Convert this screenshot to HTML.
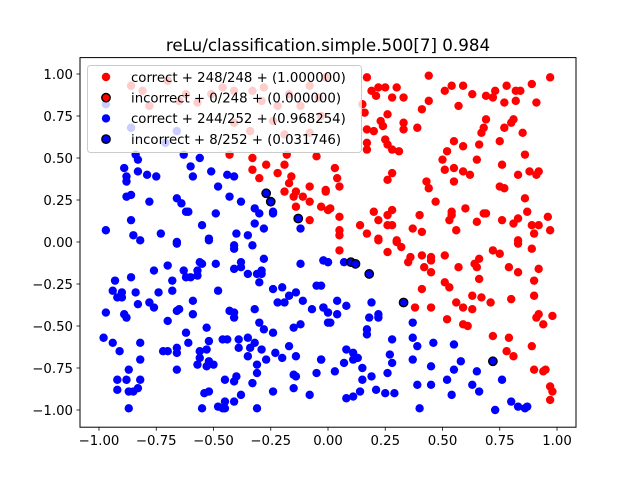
<!DOCTYPE html>
<html><head><meta charset="utf-8"><style>
body{margin:0;background:#fff}
svg{display:block;font-family:"DejaVu Sans","Liberation Sans",sans-serif}
</style></head><body>
<svg id="chart" width="640" height="480" viewBox="0 0 640 480" xmlns="http://www.w3.org/2000/svg">
<rect width="640" height="480" fill="#fff"/>
<text x="328" y="51" text-anchor="middle" font-size="16.7">reLu/classification.simple.500[7] 0.984</text>
<g id="marks"></g>
<rect x="80" y="57.6" width="496" height="369.6" fill="none" stroke="#000" stroke-width="1"/>
<g id="axes"></g>
<g id="legend"></g>
</svg>
<script>
const redX=[0.05,0.26,0.32,0.30,0.22,0.36,0.35,0.41,0.45,0.45,0.51,0.42,0.45,0.57,0.64,0.66,0.65,0.72,0.75,0.83,0.89,0.79,0.83,0.92,0.66,0.51,0.53,0.41,0.90,0.90,0.63,0.67,0.71,0.80,0.56,0.59,0.63,0.38,0.45,0.52,0.59,0.61,0.92,0.91,0.98,0.94,0.72,0.79,0.78,0.81,0.89,0.90,0.94,0.95,0.97,0.98,0.97,
0.17,0.44,0.97,0.19,0.22,0.25,0.30,0.21,0.28,0.33,0.15,0.16,0.44,0.41,0.51,0.54,0.59,0.63,0.69,0.72,0.73,0.78,0.82,0.84,0.89,0.77,0.82,0.91,0.57,0.26,0.23,0.24,0.33,0.33,0.39,0.17,0.20,0.69,0.68,0.67,0.81,0.80,0.77,0.85,0.17,0.17,0.25,0.26,0.28,0.31,0.55,0.59,0.52,0.66,0.75,0.86,0.65,0.50,0.51,0.55,0.59,0.62,0.76,0.83,0.88,0.91,0.92,0.03,0.04,0.05,0.28,0.26,-0.01,0.43,0.44,0.55,0.75,0.77,0.86,0.47,-0.03,0.01,0.20,0.28,0.26,0.22,0.26,0.28,0.40,0.54,0.54,0.60,0.68,0.69,0.05,0.14,0.05,0.05,0.17,0.22,0.30,0.37,0.41,0.53,0.56,0.65,0.76,0.81,0.83,0.87,0.89,0.90,0.92,0.96,0.97,0.83,
-0.86,-0.81,-0.78,-0.70,-0.62,-0.65,-0.57,-0.51,-0.46,-0.41,-0.33,-0.28,-0.29,-0.22,-0.17,-0.12,-0.08,-0.04,-0.03,-0.24,-0.34,-0.41,-0.19,-0.08,-0.01,
-0.43,-0.33,-0.27,-0.18,-0.33,-0.30,-0.22,-0.19,-0.16,-0.17,-0.05,-0.19,-0.08,-0.14,-0.15,-0.11,-0.08,-0.14,-0.01,0.00,-0.08];
const redY=[-0.05,-0.06,-0.03,0.00,0.01,-0.09,-0.12,-0.08,-0.09,-0.11,-0.08,-0.15,-0.18,-0.15,-0.13,-0.10,-0.15,-0.05,-0.07,-0.01,-0.04,-0.15,-0.18,-0.16,-0.22,-0.24,-0.27,-0.28,-0.23,-0.32,-0.32,-0.33,-0.36,-0.34,-0.36,-0.39,-0.40,-0.39,-0.39,-0.46,-0.49,-0.50,-0.43,-0.45,-0.44,-0.49,-0.56,-0.57,-0.65,-0.68,-0.62,-0.76,-0.77,-0.76,-0.86,-0.89,-0.94,
0.98,0.99,0.98,0.90,0.92,0.92,0.92,0.87,0.86,0.86,0.82,0.77,0.84,0.79,0.90,0.93,0.93,0.88,0.87,0.86,0.90,0.93,0.90,0.90,0.94,0.83,0.84,0.83,0.81,0.76,0.72,0.69,0.71,0.67,0.68,0.67,0.66,0.73,0.68,0.65,0.73,0.71,0.68,0.65,0.59,0.55,0.61,0.58,0.55,0.54,0.60,0.57,0.54,0.58,0.60,0.52,0.49,0.49,0.43,0.44,0.42,0.40,0.46,0.40,0.42,0.40,0.42,0.44,0.38,0.33,0.41,0.37,0.31,0.36,0.32,0.36,0.33,0.32,0.26,0.24,0.21,0.20,0.18,0.19,0.16,0.13,0.10,0.10,0.16,0.18,0.16,0.20,0.17,0.17,0.15,0.10,0.07,0.04,0.05,0.02,0.01,0.08,0.06,0.13,0.07,0.12,0.13,0.11,0.14,0.18,0.10,0.05,0.10,0.15,0.07,0.01,
0.93,0.90,0.81,0.96,0.88,0.84,0.83,0.88,0.92,0.90,0.90,0.92,0.84,0.81,0.88,0.81,0.93,0.86,0.75,0.72,0.66,0.71,0.64,0.65,0.98,
0.52,0.50,0.46,0.52,0.43,0.38,0.41,0.46,0.39,0.35,0.51,0.30,0.33,0.30,0.27,0.27,0.24,0.21,0.30,0.19,0.13];
const blueX=[-0.97,-0.86,-0.66,-0.71,-0.84,-0.83,-0.63,-0.56,-0.89,-0.83,-0.79,-0.75,-0.88,-0.88,-0.60,-0.59,-0.51,-0.44,-0.41,-0.48,-0.88,-0.86,-0.78,-0.66,-0.64,-0.62,-0.61,-0.49,-0.43,-0.38,-0.32,-0.30,-0.24,-0.24,-0.86,-0.32,-0.28,-0.12,-0.97,-0.85,-0.73,-0.55,-0.40,-0.35,-0.66,-0.52,
-0.82,-0.66,-0.52,-0.41,-0.41,-0.33,-0.28,-0.38,-0.38,-0.41,-0.35,-0.31,-0.29,-0.29,-0.30,-0.49,-0.56,-0.55,-0.57,-0.57,-0.63,-0.62,-0.60,-0.70,-0.76,-0.68,-0.68,-0.86,-0.93,-0.94,-0.90,-0.92,-0.90,-0.84,-0.74,-0.83,-0.78,-0.76,-0.59,-0.48,-0.97,-0.89,-0.88,-0.70,-0.66,-0.65,-0.59,-0.43,-0.41,-0.41,-0.32,-0.30,-0.28,-0.24,-0.24,-0.20,-0.17,-0.19,-0.22,-0.14,-0.11,-0.05,-0.07,-0.02,0.00,0.00,-0.12,-0.02,0.00,-0.15,-0.12,-0.98,-0.94,-0.91,-0.82,-0.82,-0.87,-0.92,-0.88,-0.82,-0.92,-0.87,-0.85,-0.83,-0.87,-0.62,-0.61,-0.72,-0.70,-0.66,-0.66,-0.66,-0.53,-0.52,-0.53,-0.56,-0.56,-0.57,-0.53,-0.52,-0.50,-0.46,-0.44,-0.39,-0.39,-0.35,-0.34,-0.32,-0.29,-0.35,-0.27,-0.31,-0.23,-0.20,-0.17,-0.14,-0.03,-0.31,-0.33,-0.45,-0.41,-0.40,-0.15,-0.14,-0.05,-0.15,-0.24,-0.08,-0.38,-0.41,-0.45,-0.54,-0.52,-0.55,-0.48,-0.46,-0.45,-0.31,
-0.02,0.00,0.07,-0.03,0.04,0.08,-0.02,0.00,0.04,0.01,0.19,0.18,0.22,0.22,0.17,0.17,0.28,0.37,0.37,0.39,0.46,0.55,0.08,0.11,0.11,0.13,-0.03,0.07,0.27,0.28,0.37,0.45,0.58,0.55,0.15,0.03,0.26,0.15,0.19,0.52,0.65,0.76,0.39,0.45,0.63,0.21,0.14,0.25,0.29,0.08,0.11,0.54,0.66,0.40,0.73,0.80,0.83,0.86,0.87];
const blueY=[0.82,0.68,0.66,0.59,0.52,0.49,0.52,0.50,0.44,0.42,0.40,0.39,0.39,0.36,0.45,0.39,0.42,0.40,0.39,0.33,0.27,0.28,0.24,0.26,0.23,0.18,0.18,0.17,0.27,0.24,0.20,0.17,0.18,0.17,0.13,0.11,0.08,0.08,0.07,0.04,0.05,0.10,0.05,0.04,0.00,0.02,
0.01,-0.01,0.01,-0.02,-0.04,-0.02,-0.10,-0.12,-0.15,-0.16,-0.19,-0.19,-0.17,-0.19,-0.24,-0.13,-0.12,-0.13,-0.17,-0.20,-0.17,-0.21,-0.21,-0.14,-0.17,-0.23,-0.29,-0.21,-0.23,-0.29,-0.30,-0.33,-0.33,-0.30,-0.30,-0.37,-0.36,-0.39,-0.35,-0.29,-0.42,-0.43,-0.45,-0.47,-0.41,-0.40,-0.43,-0.41,-0.42,-0.45,-0.40,-0.48,-0.52,-0.54,-0.28,-0.27,-0.32,-0.36,-0.36,-0.30,-0.35,-0.26,-0.40,-0.39,-0.42,-0.48,-0.13,-0.11,-0.12,-0.51,-0.49,-0.57,-0.60,-0.65,-0.60,-0.70,-0.76,-0.82,-0.82,-0.82,-0.88,-0.89,-0.89,-0.87,-0.99,-0.54,-0.60,-0.65,-0.65,-0.63,-0.66,-0.76,-0.51,-0.59,-0.64,-0.65,-0.69,-0.73,-0.74,-0.71,-0.73,-0.58,-0.58,-0.58,-0.63,-0.57,-0.63,-0.60,-0.64,-0.68,-0.70,-0.73,-0.66,-0.69,-0.62,-0.68,-0.70,-0.78,-0.84,-0.82,-0.83,-0.80,-0.79,-0.80,-0.78,-0.87,-0.89,-0.91,-0.91,-0.95,-0.95,-0.90,-0.89,-0.99,-0.98,-0.99,-0.99,-0.99,
-0.11,-0.12,-0.12,-0.26,-0.35,-0.38,-0.39,-0.42,-0.43,-0.48,-0.36,-0.45,-0.43,-0.45,-0.52,-0.55,-0.58,-0.48,-0.57,-0.62,-0.60,-0.61,-0.64,-0.66,-0.70,-0.69,-0.70,-0.72,-0.67,-0.72,-0.70,-0.74,-0.71,-0.76,-0.75,-0.77,-0.78,-0.82,-0.80,-0.82,-0.77,-0.82,-0.85,-0.85,-0.85,-0.88,-0.89,-0.90,-0.90,-0.93,-0.92,-0.91,-0.89,-0.99,-1.00,-0.95,-0.98,-0.99,-0.98];
const wrongX=[-0.27,-0.25,-0.13,0.10,0.12,0.18,0.33,0.72];
const wrongY=[0.29,0.24,0.14,-0.12,-0.13,-0.19,-0.36,-0.71];
const xTicks=[-1.00,-0.75,-0.50,-0.25,0.00,0.25,0.50,0.75,1.00];
const yTicks=[-1.00,-0.75,-0.50,-0.25,0.00,0.25,0.50,0.75,1.00];
const legendLabels=["correct + 248/248 + (1.000000)","incorrect + 0/248 + (0.000000)","correct + 244/252 + (0.968254)","incorrect + 8/252 + (0.031746)"];

const NS="http://www.w3.org/2000/svg";
const sx=v=>328+v*229;
const sy=v=>242-v*168;
function mk(tag,attrs,parent){const e=document.createElementNS(NS,tag);for(const k in attrs)e.setAttribute(k,attrs[k]);parent.appendChild(e);return e;}
const marks=document.getElementById('marks');
redX.forEach((v,i)=>{const c=mk('circle',{cx:sx(v),cy:sy(redY[i]),r:4.2,fill:'#ff0000'},marks);

});
blueX.forEach((v,i)=>{const c=mk('circle',{cx:sx(v),cy:sy(blueY[i]),r:4.2,fill:'#0000ff'},marks);

});
wrongX.forEach((v,i)=>{const c=mk('circle',{cx:sx(v),cy:sy(wrongY[i]),r:4.2,fill:'#0000ff',stroke:'#000','stroke-width':1.4},marks);

});
const axes=document.getElementById('axes');
xTicks.forEach(t=>{const x=sx(t);
const l=mk('line',{x1:x,x2:x,y1:427.2,y2:430.7,stroke:'#000','stroke-width':0.8},axes);


const tx=mk('text',{x:x,y:445,'text-anchor':'middle','font-size':13.3},axes);tx.textContent=(t<0?'\u2212':'')+Math.abs(t).toFixed(2);

});
yTicks.forEach(t=>{const y=sy(t);
const l=mk('line',{x1:76.5,x2:80,y1:y,y2:y,stroke:'#000','stroke-width':0.8},axes);


const tx=mk('text',{x:73,y:y+4.8,'text-anchor':'end','font-size':13.3},axes);tx.textContent=(t<0?'\u2212':'')+Math.abs(t).toFixed(2);

});
const lg=document.getElementById('legend');
const box=mk('rect',{x:87.5,y:65.5,width:274,height:87,rx:3,fill:'#fff','fill-opacity':0.8,stroke:'#cccccc','stroke-width':1},lg);


const styles=[{fill:'#ff0000'},{fill:'#ff0000',stroke:'#000','stroke-width':1.4},{fill:'#0000ff'},{fill:'#0000ff',stroke:'#000','stroke-width':1.4}];
legendLabels.forEach((s,i)=>{const y=77+i*20.7;
const g=mk('g',{},lg);


mk('circle',Object.assign({cx:106,cy:y,r:4.2},styles[i]),g);
const t=mk('text',{x:131,y:y+4.8,'font-size':13.3},g);t.textContent=s;});
</script>
</body></html>
